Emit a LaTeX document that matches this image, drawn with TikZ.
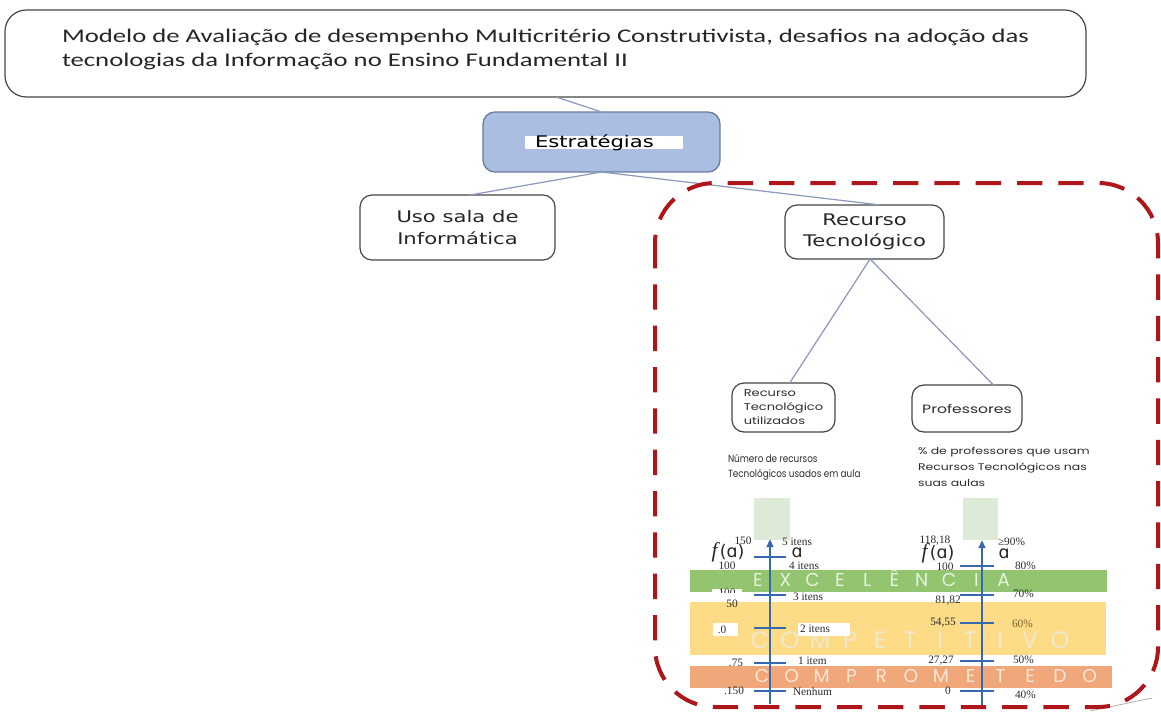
\documentclass[tikz,border=0pt]{standalone}
\usepackage{fontspec}
\usetikzlibrary{arrows.meta,calc}

% type faces
\newfontfamily\ttlfont[FakeStretch=1.38]{Carlito}
\newfontfamily\boxfont[FakeStretch=1.32]{DejaVu Sans}
\newfontfamily\plainsans{DejaVu Sans}
\newfontfamily\smallfont[FakeStretch=1.30]{Poppins}
\newfontfamily\smallnarrow[FakeStretch=0.85]{Poppins}
\newfontfamily\numfont{Liberation Serif}
\newfontfamily\bandfont{Poppins}

% colours
\definecolor{estrfill}{RGB}{170,190,225}
\definecolor{estrdraw}{RGB}{105,125,160}
\definecolor{linkc}{RGB}{140,152,188}
\definecolor{boxdraw}{RGB}{70,70,70}
\definecolor{dashred}{RGB}{175,22,28}
\definecolor{axisblue}{RGB}{55,105,175}
\definecolor{palegreen}{RGB}{222,234,216}
\definecolor{exgreen}{RGB}{147,196,112}
\definecolor{compyellow}{RGB}{253,219,135}
\definecolor{comporange}{RGB}{240,168,122}
\definecolor{labelc}{RGB}{45,45,45}
\definecolor{exletter}{RGB}{230,242,222}
\definecolor{coletter}{RGB}{240,232,205}
\definecolor{crletter}{RGB}{252,230,214}

\tikzset{
  boxsz/.style 2 args={minimum width={#1*0.75pt}, minimum height={#2*0.75pt}},
  whitebox/.style={draw=boxdraw, line width=0.9pt, rounded corners=9pt},
  link/.style={draw=linkc, line width=0.9pt},
  tick/.style={draw=axisblue, line width=1.3pt},
  axis/.style={draw=axisblue, line width=1.8pt, -{Triangle[length=6pt,width=5pt]}},
  numlbl/.style={font=\numfont\fontsize{8.5}{8.5}\selectfont, text=labelc},
  fa/.style={font=\numfont\fontsize{16}{16}\selectfont, text=black!85, anchor=base, text height=0.7em, text depth=0pt},
  alpha/.style={font=\plainsans\fontsize{13}{13}\selectfont, text=black!85, anchor=base, text height=0.55em, text depth=0pt},
  bandletter/.style 2 args={font=\bandfont\fontsize{#1}{#1}\selectfont, text=#2, text height=0.7em, text depth=0pt},
}

\begin{document}
\begin{tikzpicture}[x=0.75pt,y=-0.75pt, every node/.style={inner sep=0pt, outer sep=0pt}]
\useasboundingbox (0,0) rectangle (1161,711);
\fill[white] (0,0) rectangle (1161,711);

% ---- title ----
\node[whitebox, rounded corners=16pt, boxsz={1081}{87}] (title) at (545.5,53.5) {};
\node[anchor=base west, font=\ttlfont\fontsize{14.5}{16}\selectfont, text=black!85] (title1) at (62,42)
  {Modelo de Avaliação de desempenho Multicritério Construtivista, desafios na adoção das};
\node[anchor=base west, font=\ttlfont\fontsize{14.5}{16}\selectfont, text=black!85] (title2) at (62,66)
  {tecnologias da Informação no Ensino Fundamental II};

% ---- strategies ----
\node[fill=estrfill, draw=estrdraw, line width=1pt, rounded corners=9pt, boxsz={237}{60}] (estr) at (601.5,142) {};
\node[fill=white, boxsz={158}{13}] (estrhl) at (604,142.5) {};
\node[anchor=base west, font=\boxfont\fontsize{12}{12}\selectfont, text=black] (estrtxt) at (535,147) {Estratégias};

\node[whitebox, boxsz={195}{65}, align=center, font=\boxfont\fontsize{12}{16.5}\selectfont, text=black!85] (uso) at (457.5,227.5) {Uso sala de\\Informática};
\node[whitebox, boxsz={159}{54}, align=center, font=\boxfont\fontsize{12}{15.75}\selectfont, text=black!85] (rec) at (864.5,232) {Recurso\\Tecnológico};

\node[whitebox, boxsz={103}{49}, align=left, font=\smallfont\fontsize{7.5}{10.5}\selectfont, text=labelc] (rtu) at (783.5,407.5) {Recurso\\Tecnológico\\utilizados};
\node[whitebox, boxsz={110}{47}, font=\smallfont\fontsize{9}{10.5}\selectfont, text=labelc] (prof) at (967,408.5) {Professores};

\node[anchor=north west, align=left, font=\smallnarrow\fontsize{7.8}{11.25}\selectfont, text=labelc] (ltxt) at (728,454) {Número de recursos\\Tecnológicos usados em aula};
\node[anchor=north west, align=left, font=\smallfont\fontsize{7.2}{12}\selectfont, text=labelc] (rtxt) at (918,447) {\% de professores que usam\\Recursos Tecnológicos nas\\suas aulas};

% ---- links ----
\draw[link] ($(title.south west)!0.51!(title.south east)$) -- (estr.north);
\draw[link] (estr.south) -- ($(uso.north west)!0.564!(uso.north east)$);
\draw[link] (estr.south) -- ($(rec.north west)!0.6!(rec.north east)$);
\draw[link] ($(rec.south west)!0.535!(rec.south east)$) -- ($(rtu.north west)!0.56!(rtu.north east)$);
\draw[link] ($(rec.south west)!0.535!(rec.south east)$) -- ($(prof.north west)!0.74!(prof.north east)$);

% ---- performance bands ----
\fill[exgreen] (690,570) rectangle (1107,592);
\fill[compyellow] (690,602) rectangle (1106,655);
\fill[comporange] (690,666) rectangle (1112,688);

\foreach \l [count=\i from 0] in {E,X,C,E,L,Ê,N,C,I,A}
  \node[bandletter={14}{exletter}] (ex\i) at (758+27.3*\i,582) {\l};
\foreach \l [count=\i from 0] in {C,O,M,P,E,T,I,T,I,V,O}
  \node[bandletter={18}{coletter}] (co\i) at (760+30*\i,643.5) {\l};
\foreach \l [count=\i from 0] in {C,O,M,P,R,O,M,E,T,E,D,O}
  \node[bandletter={14}{crletter}] (cr\i) at (762+29.8*\i,678) {\l};

% pale reference columns above the axes
\fill[palegreen] (754,498) rectangle (790,540);
\fill[palegreen] (963,498) rectangle (998,540);

% white label patches
\fill[white] (713,623) rectangle (738,636);
\fill[white] (798,623) rectangle (850,636);
\fill[white] (712,589) rectangle (742,597);
\begin{scope}
  \clip (712,587) rectangle (745,592);
  \node[numlbl, anchor=north, text height=0.66em, text depth=0pt] (hidn) at (727,587.5) {100};
\end{scope}

% ---- left scale: number of resources ----
\coordinate (labot) at (770,704);
\coordinate (latop) at (770,539);
\draw[axis] (labot) -- (latop);
\foreach \y in {557,595,628,663,691} \draw[tick] (754,\y) -- (786,\y);

\node[numlbl] (l150) at (743,541) {150};
\node[fa] (lfa) at (728,557) {\textit{f}{\plainsans\fontsize{13}{13}\selectfont(ɑ)}};
\node[numlbl] (l100) at (727,566) {100};
\node[numlbl] (l50) at (732,604) {50};
\node[numlbl] (l0) at (722,630) {.0};
\node[numlbl] (l75) at (736,663) {.75};
\node[numlbl] (lm150) at (734,691) {.150};

\node[numlbl, anchor=west] (i5) at (782,542) {5 itens};
\node[alpha] (la) at (797,557) {ɑ};
\node[numlbl, anchor=west] (i4) at (789,565.5) {4 itens};
\node[numlbl, anchor=west] (i3) at (793,597) {3 itens};
\node[numlbl, anchor=west] (i2) at (800,629) {2 itens};
\node[numlbl, anchor=west] (i1) at (798,661) {1 item};
\node[numlbl, anchor=west] (i0) at (793,692) {Nenhum};

% ---- right scale: share of teachers ----
\coordinate (rabot) at (982,705);
\coordinate (ratop) at (982,540);
\draw[axis] (rabot) -- (ratop);
\foreach \y in {566,595,623,661,691} \draw[tick] (960,\y) -- (994,\y);

\node[numlbl] (r118) at (935,541) {118,18};
\node[fa] (rfa) at (938,558) {\textit{f}{\plainsans\fontsize{13}{13}\selectfont(ɑ)}};
\node[numlbl] (r100) at (945,567) {100};
\node[numlbl] (r81) at (948,601) {81,82};
\node[numlbl] (r54) at (943,623) {54,55};
\node[numlbl] (r27) at (941,661) {27,27};
\node[numlbl] (r0) at (948,691) {0};

\node[numlbl, anchor=west] (p90) at (998,542) {≥90\%};
\node[alpha] (ra) at (1004,558) {ɑ};
\node[numlbl, anchor=west] (p80) at (1015,566) {80\%};
\node[numlbl, anchor=west] (p70) at (1013,594) {70\%};
\node[numlbl, anchor=west, text={rgb,255:red,120;green,100;blue,40}] (p60) at (1012,624) {60\%};
\node[numlbl, anchor=west] (p50) at (1013,660) {50\%};
\node[numlbl, anchor=west] (p40) at (1015,695) {40\%};

% thin stray edge at the lower right
\draw[gray!60, line width=0.6pt] (1090,711) -- (1152,698);

% ---- dashed frame around the technology branch ----
\draw[dashred, line width=3pt, dash pattern=on 19pt off 12pt, rounded corners=45pt] (655,183) rectangle (1158,707);
\end{tikzpicture}
\end{document}
